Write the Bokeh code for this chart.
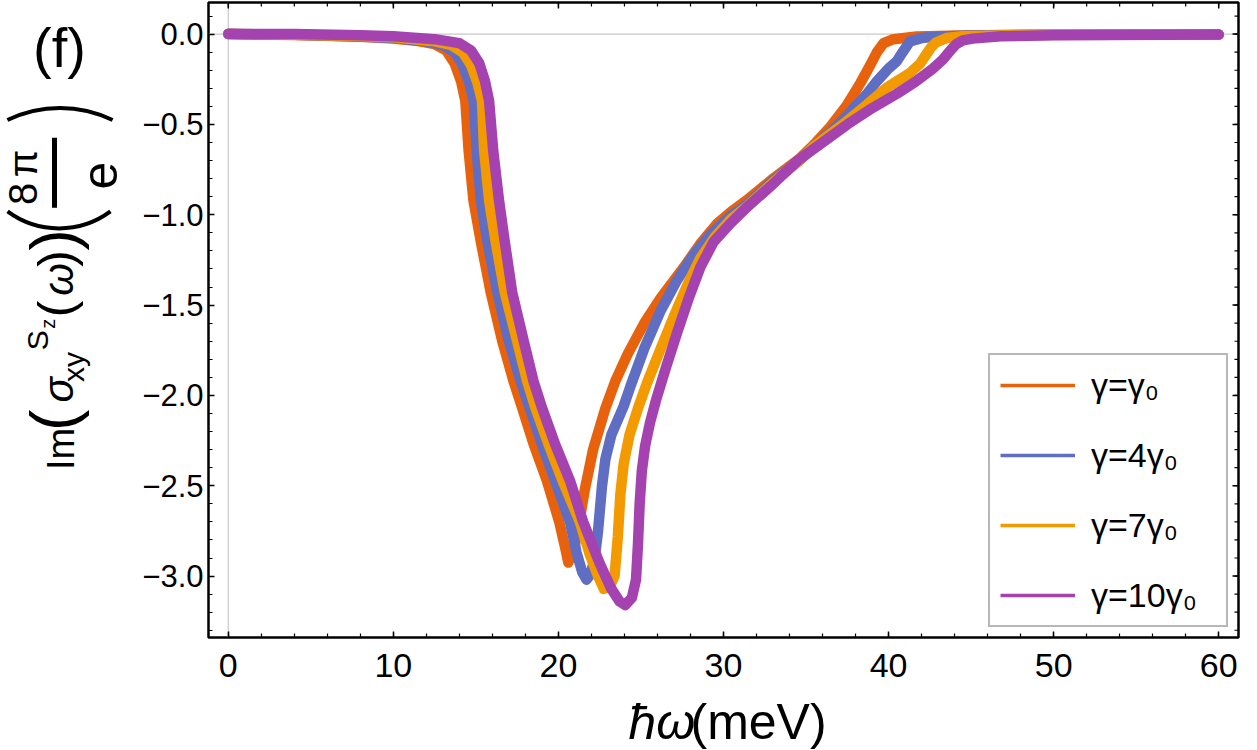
import numpy as np
from bokeh.plotting import figure
from bokeh.layouts import row, column
from bokeh.models import (Range1d, FixedTicker, Span, Legend, LegendItem, BoxAnnotation)
from bokeh.core.properties import value
from bokeh.embed import file_html
from bokeh.resources import INLINE

# ---------------- data ----------------
X_G1 = [0, 4, 8, 10, 11.5, 12.5, 13.2, 13.7, 14.1, 14.36, 14.56, 14.85, 15.3, 15.9, 16.6,
        17.27, 17.8, 18.5, 19.3, 20.05, 20.4, 20.6, 20.95, 21.3, 21.6, 22.1, 22.85, 23.45,
        24.2, 25.2, 26.2, 27.6, 28.6, 29.6, 30.5, 31.4, 33.0, 34.6, 35.5, 36.5, 37.5, 38.3,
        38.9, 39.3, 39.7, 40.3, 41.7, 45, 50, 60]
Y_G1 = [0, -0.005, -0.015, -0.025, -0.038, -0.055, -0.09, -0.16, -0.26, -0.37, -0.646, -0.92,
        -1.15, -1.43, -1.7, -1.918, -2.067, -2.27, -2.472, -2.7, -2.84, -2.925, -2.85, -2.68,
        -2.52, -2.3, -2.07, -1.92, -1.77, -1.6, -1.46, -1.29, -1.16, -1.05, -0.98, -0.92,
        -0.80, -0.69, -0.61, -0.51, -0.39, -0.27, -0.17, -0.10, -0.05, -0.028, -0.013,
        -0.006, -0.003, -0.002]

X_G4 = [0, 4, 8, 10, 12, 13.0, 13.7, 14.2, 14.6, 14.87, 15.05, 15.3, 15.7, 16.3, 17.0, 17.7,
        18.25, 19.0, 19.8, 20.7, 21.1, 21.45, 21.7, 21.95, 22.2, 22.4, 22.64, 22.85, 23.2,
        23.95, 24.36, 25.2, 26.2, 27.2, 28.2, 29.3, 30.5, 31.4, 33.0, 34.6, 35.5, 36.5, 37.6,
        38.7, 39.3, 40.0, 40.5, 40.85, 41.3, 42.0, 43.0, 46, 50, 60]
Y_G4 = [0, -0.004, -0.013, -0.022, -0.04, -0.06, -0.10, -0.17, -0.27, -0.37, -0.646, -0.92,
        -1.15, -1.43, -1.7, -1.918, -2.067, -2.27, -2.472, -2.7, -2.87, -2.98, -3.02, -2.99,
        -2.9, -2.75, -2.5, -2.35, -2.22, -2.06, -1.95, -1.74, -1.53, -1.36, -1.22, -1.10,
        -1.0, -0.945, -0.81, -0.70, -0.62, -0.54, -0.44, -0.33, -0.26, -0.19, -0.15, -0.10,
        -0.04, -0.022, -0.013, -0.006, -0.004, -0.002]

X_G7 = [0, 4, 8, 10, 12.5, 13.5, 14.2, 14.7, 15.1, 15.37, 15.5, 15.8, 16.2, 16.75, 17.5, 18.1,
        18.6, 19.4, 20.25, 21.3, 21.9, 22.4, 22.75, 23.1, 23.4, 23.6, 23.75, 23.95, 24.3,
        24.86, 25.37, 26.2, 27.0, 27.8, 28.6, 29.5, 30.5, 31.4, 33.0, 34.6, 35.5, 36.5, 37.5,
        38.7, 39.9, 40.6, 41.3, 41.9, 42.3, 42.6, 42.9, 43.5, 44.5, 48, 60]
Y_G7 = [0, -0.003, -0.011, -0.018, -0.04, -0.06, -0.10, -0.17, -0.27, -0.37, -0.646, -0.92,
        -1.15, -1.43, -1.7, -1.918, -2.067, -2.27, -2.472, -2.7, -2.88, -3.0, -3.07, -3.06,
        -3.0, -2.78, -2.55, -2.38, -2.22, -2.06, -1.93, -1.74, -1.56, -1.39, -1.24, -1.12,
        -1.02, -0.955, -0.82, -0.70, -0.62, -0.55, -0.48, -0.39, -0.295, -0.255, -0.215,
        -0.165, -0.11, -0.07, -0.045, -0.022, -0.012, -0.005, -0.002]

X_G10 = [0, 4, 8, 10, 12.5, 14.0, 14.7, 15.2, 15.55, 15.8, 16.05, 16.4, 16.75, 17.2, 17.9,
         18.48, 19.0, 19.8, 20.7, 21.5, 22.5, 23.2, 23.7, 24.05, 24.45, 24.7, 24.82, 24.92,
         25.05, 25.25, 25.55, 25.9, 26.5, 27.2, 27.9, 28.6, 29.4, 30.4, 31.4, 33.0, 34.5,
         36.0, 37.5, 39.0, 40.5, 41.6, 42.7, 43.3, 43.75, 44.1, 44.5, 45.1, 46.8, 50, 60]
Y_G10 = [0.002, 0, -0.006, -0.012, -0.028, -0.05, -0.09, -0.16, -0.26, -0.37, -0.646, -0.92,
         -1.15, -1.43, -1.7, -1.918, -2.067, -2.27, -2.472, -2.7, -2.93, -3.07, -3.14, -3.16,
         -3.12, -3.02, -2.82, -2.6, -2.42, -2.28, -2.15, -2.03, -1.85, -1.65, -1.46, -1.29,
         -1.15, -1.05, -0.96, -0.83, -0.70, -0.60, -0.50, -0.41, -0.33, -0.265, -0.19, -0.14,
         -0.09, -0.055, -0.035, -0.025, -0.012, -0.006, -0.002]

SERIES_LABELS = ["γ=γ₀", "γ=4γ₀", "γ=7γ₀", "γ=10γ₀"]
COLORS = ["#E8620E", "#5F6EC3", "#F39A00", "#A443B0"]

X_TICKS = [0, 10, 20, 30, 40, 50, 60]
X_TICK_LABELS = ["0", "10", "20", "30", "40", "50", "60"]
Y_TICKS = [0.0, -0.5, -1.0, -1.5, -2.0, -2.5, -3.0]
Y_TICK_LABELS = ["0.0", "−0.5", "−1.0", "−1.5", "−2.0", "−2.5", "−3.0"]

X_MINOR = [float(v) for v in np.arange(0, 61, 2)]
Y_MINOR = [round(float(v), 2) for v in np.arange(-3.3, 0.15, 0.1)]

# ---------------- layout ----------------
TOTAL_W = 1257
YT_W = 132          # strip holding the rotated y title
MAIN_H = 690
XT_H = 60           # strip holding the x title

X0, X1 = -1.2, 61.2
Y0, Y1 = -3.34, 0.175
MAIN_W = TOTAL_W - YT_W
ML, MR, MT, MB = 208 - YT_W, 19, 2, MAIN_H - 637
FW, FH = MAIN_W - ML - MR, MAIN_H - MT - MB
SX, SY = FW / (X1 - X0), FH / (Y1 - Y0)

FONT = "Liberation Sans"

p = figure(width=MAIN_W, height=MAIN_H, x_range=Range1d(X0, X1), y_range=Range1d(Y0, Y1),
           output_backend="svg", toolbar_location=None,
           min_border_left=ML, min_border_right=MR, min_border_top=MT, min_border_bottom=MB)
p.grid.visible = False
p.outline_line_color = "black"
p.outline_line_width = 2.5
p.background_fill_color = "white"
p.border_fill_color = "white"


def style(ax, size, standoff):
    ax.axis_line_color = None
    ax.major_tick_in = 6
    ax.major_tick_out = 0
    ax.minor_tick_in = 4
    ax.minor_tick_out = 0
    ax.major_tick_line_color = "black"
    ax.minor_tick_line_color = "black"
    ax.major_tick_line_width = 1.5
    ax.minor_tick_line_width = 1.2
    ax.major_label_text_font = FONT
    ax.major_label_text_font_size = size
    ax.major_label_text_color = "black"
    ax.major_label_standoff = standoff


xa = p.xaxis[0]
xa.ticker = FixedTicker(ticks=X_TICKS, minor_ticks=X_MINOR)
style(xa, "34px", 16)
xa.major_label_overrides = {t: s for t, s in zip(X_TICKS, X_TICK_LABELS)}

ya = p.yaxis[0]
ya.ticker = FixedTicker(ticks=Y_TICKS, minor_ticks=Y_MINOR)
style(ya, "31px", 5)
ya.major_label_overrides = {t: s for t, s in zip(Y_TICKS, Y_TICK_LABELS)}

# mirrored inward ticks on the top and right edges of the frame
p.segment(x0=X_TICKS, y0=[Y1] * len(X_TICKS), x1=X_TICKS, y1=[Y1 - 6 / SY] * len(X_TICKS),
          line_color="black", line_width=1.5)
p.segment(x0=X_MINOR, y0=[Y1] * len(X_MINOR), x1=X_MINOR, y1=[Y1 - 4 / SY] * len(X_MINOR),
          line_color="black", line_width=1.2)
p.segment(x0=[X1] * len(Y_TICKS), y0=Y_TICKS, x1=[X1 - 6 / SX] * len(Y_TICKS), y1=Y_TICKS,
          line_color="black", line_width=1.5)
p.segment(x0=[X1] * len(Y_MINOR), y0=Y_MINOR, x1=[X1 - 4 / SX] * len(Y_MINOR), y1=Y_MINOR,
          line_color="black", line_width=1.2)

p.add_layout(Span(location=0, dimension="width", line_color="#c8c8c8", line_width=1.2, level="underlay"))
p.add_layout(Span(location=0, dimension="height", line_color="#c8c8c8", line_width=1.2, level="underlay"))

items = []
for xs, ys, c, lab in zip([X_G1, X_G4, X_G7, X_G10], [Y_G1, Y_G4, Y_G7, Y_G10], COLORS, SERIES_LABELS):
    thin = p.line(xs, ys, line_color=c, line_width=3.5)          # legend sample (hidden under)
    p.line(xs, ys, line_color=c, line_width=10.5, line_join="round", line_cap="round")
    items.append(LegendItem(label=lab, renderers=[thin]))

legend = Legend(items=items, location="bottom_right", margin=10, padding=10, spacing=30,
                glyph_width=75, glyph_height=40, label_height=40, label_standoff=16,
                label_width=125, border_line_color="#707070", border_line_width=2,
                background_fill_color="white", background_fill_alpha=1,
                label_text_font=FONT, label_text_font_size="34px", label_text_color="black")
p.add_layout(legend)

# ---------------- y title strip (y measured upward, 1 unit = 1 px) ----------------
yfig = figure(width=YT_W, height=MAIN_H, x_range=Range1d(0, YT_W), y_range=Range1d(0, MAIN_H),
              x_axis_type=None, y_axis_type=None, output_backend="svg", toolbar_location=None,
              min_border=0)
yfig.grid.visible = False
yfig.outline_line_color = None


def up(py):
    return MAIN_H - py


# (text, centre px, centre py from top, size, style) -- rotated, reading upward
YTITLE = [("Im", 60, 485, 38, "normal"), ("(", 53, 454, 64, "normal"),
          ("σ", 58, 421, 42, "italic"), ("xy", 73, 396, 30, "normal"),
          ("S", 37, 367, 30, "normal"), ("z", 47, 349, 20, "normal"),
          ("(", 55, 333, 50, "normal"), ("ω", 58, 301, 42, "italic"),
          (")", 55, 278, 50, "normal"), (")", 53, 258, 64, "normal"),
          ("8", 22, 208, 40, "normal"), ("π", 22, 175, 40, "normal"),
          ("e", 99, 188, 50, "normal")]
for t, cx, cy, fs, st in YTITLE:
    yfig.text(x=[cx], y=[up(cy)], text=[t], angle=np.pi / 2, text_font=value(FONT),
              text_font_size=value(f"{fs}px"), text_font_style=st, text_align="center",
              text_baseline="middle", text_color="black")
# stretched parentheses around the fraction and the fraction bar
yfig.arc(x=[58.5], y=[up(151.5)], radius=86.5, start_angle=np.deg2rad(-126.5),
         end_angle=np.deg2rad(-53.5), line_color="black", line_width=4)
yfig.arc(x=[59.5], y=[up(245.8)], radius=120.8, start_angle=np.deg2rad(64.2),
         end_angle=np.deg2rad(115.8), line_color="black", line_width=4)
yfig.add_layout(BoxAnnotation(left=51.5, right=56.5, top=up(147), bottom=up(223),
                              fill_color="black", fill_alpha=1, line_color=None))
yfig.text(x=[59], y=[up(49)], text=["(f)"], text_font=value(FONT), text_font_size=value("56px"),
          text_align="center", text_baseline="middle", text_color="black")

# ---------------- x title strip ----------------
xfig = figure(width=TOTAL_W, height=XT_H, x_range=Range1d(0, TOTAL_W), y_range=Range1d(0, XT_H),
              x_axis_type=None, y_axis_type=None, output_backend="svg", toolbar_location=None,
              min_border=0)
xfig.grid.visible = False
xfig.outline_line_color = None
xfig.text(x=[628], y=[XT_H - 31], text=["ħω"], text_font=value(FONT), text_font_size=value("50px"),
          text_font_style="italic", text_align="left", text_baseline="middle", text_color="black")
xfig.text(x=[690], y=[XT_H - 31], text=["(meV)"], text_font=value(FONT), text_font_size=value("50px"),
          text_align="left", text_baseline="middle", text_color="black")

layout = column(row(yfig, p), xfig)
open("out.html", "w").write(file_html(layout, INLINE))
